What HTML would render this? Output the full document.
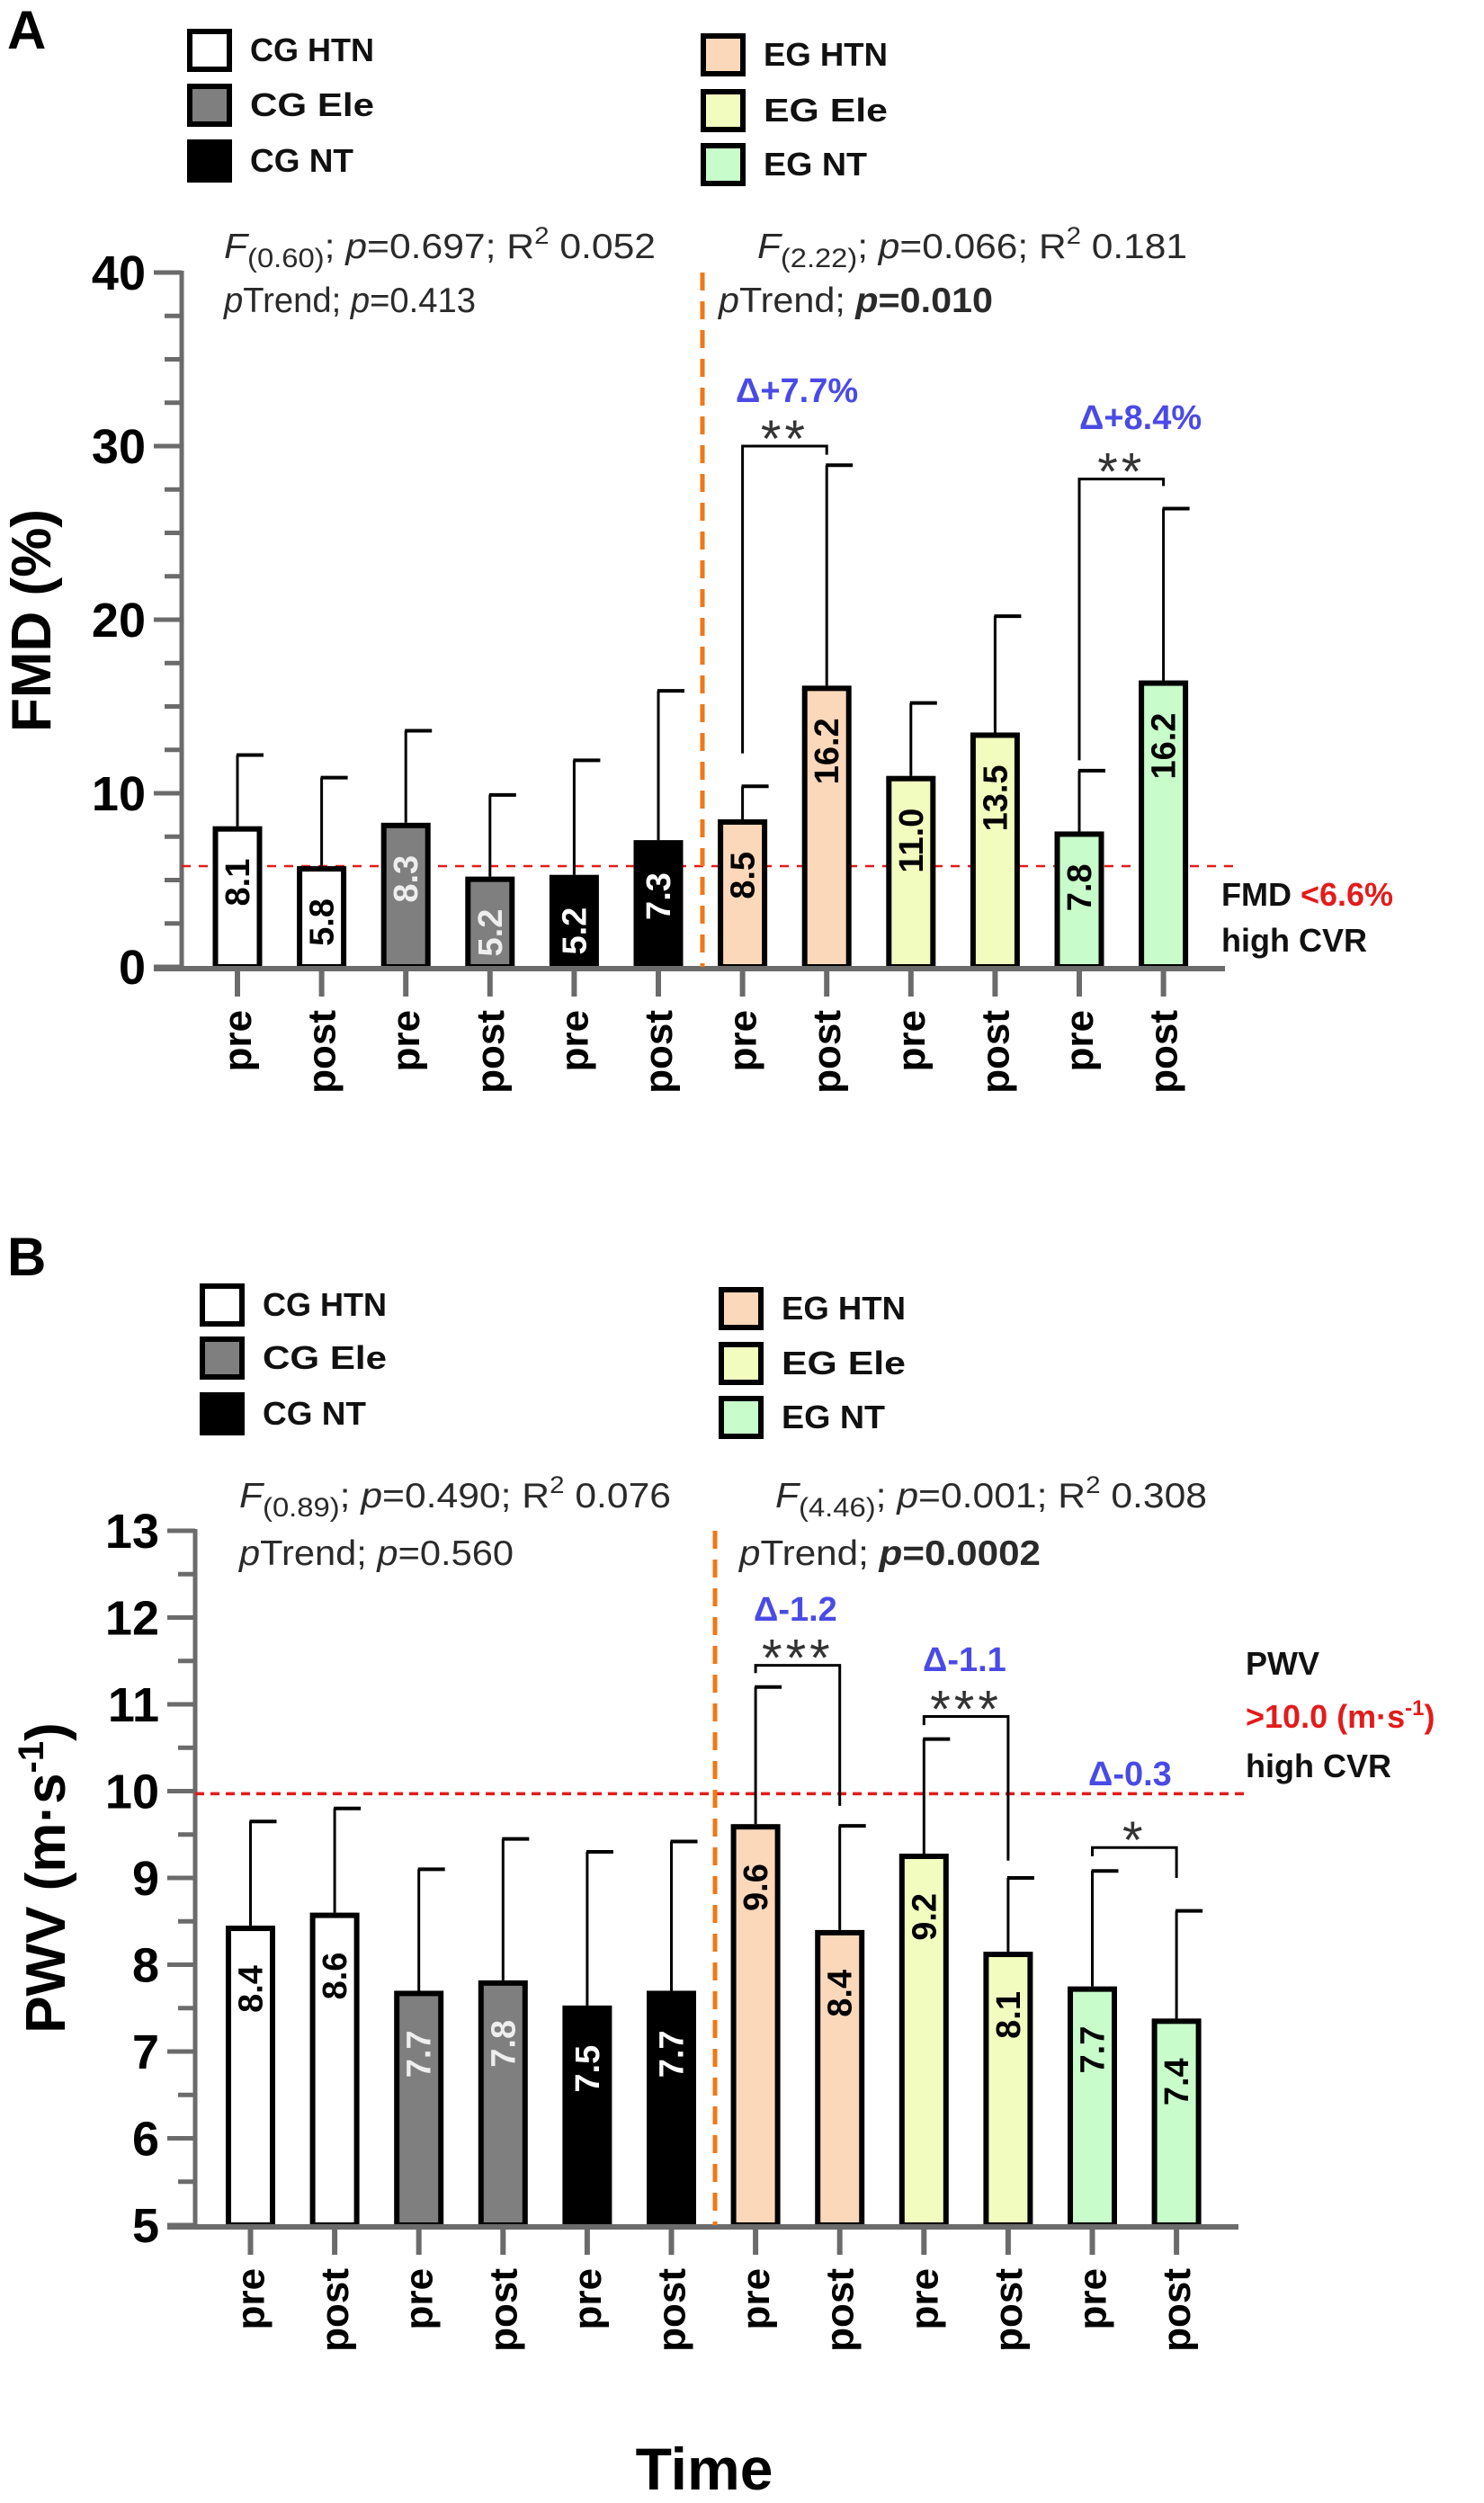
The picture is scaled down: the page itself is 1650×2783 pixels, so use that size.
<!DOCTYPE html>
<html><head><meta charset="utf-8">
<style>
html,body{margin:0;padding:0;background:#fff;}
svg{display:block;font-family:"Liberation Sans",Arial,sans-serif;}
</style></head>
<body>
<svg id="fig" width="1650" height="2783" viewBox="0 0 1650 2783" xmlns="http://www.w3.org/2000/svg"></svg>
<script>
// ---- shared categories ----
const categories = ["pre","post","pre","post","pre","post","pre","post","pre","post","pre","post"];
const groups = ["CG HTN","CG HTN","CG Ele","CG Ele","CG NT","CG NT","EG HTN","EG HTN","EG Ele","EG Ele","EG NT","EG NT"];
// ---- Panel A (FMD) ----
const fmdValues = [8.1, 5.8, 8.3, 5.2, 5.3, 7.3, 8.5, 16.2, 11.0, 13.5, 7.8, 16.5];
const fmdLabels = ["8.1","5.8","8.3","5.2","5.2","7.3","8.5","16.2","11.0","13.5","7.8","16.2"];
const fmdErrTop = [12.2, 10.9, 13.6, 9.9, 11.9, 15.9, 10.4, 28.9, 15.2, 20.2, 11.3, 26.4];
const fmdTicks = [0, 10, 20, 30, 40];
const fmdThreshold = 5.8;
// ---- Panel B (PWV) ----
const pwvValues = [8.45, 8.6, 7.7, 7.82, 7.53, 7.7, 9.62, 8.4, 9.28, 8.15, 7.75, 7.38];
const pwvLabels = ["8.4","8.6","7.7","7.8","7.5","7.7","9.6","8.4","9.2","8.1","7.7","7.4"];
const pwvErrTop = [9.65, 9.8, 9.1, 9.45, 9.3, 9.42, 11.2, 9.6, 10.6, 9.0, 9.08, 8.62];
const pwvTicks = [5, 6, 7, 8, 9, 10, 11, 12, 13];
const pwvThreshold = 9.97;

const NS = "http://www.w3.org/2000/svg";
const svg = document.getElementById("fig");
const fills = {"CG HTN":"#ffffff","CG Ele":"#7f7f7f","CG NT":"#000000","EG HTN":"#fcd8bb","EG Ele":"#f3fcbf","EG NT":"#c8fcca"};
const labelCol = {"CG HTN":"#000","CG Ele":"#eeeeee","CG NT":"#ffffff","EG HTN":"#000","EG Ele":"#000","EG NT":"#000"};

function el(tag, attrs, parent, text) {
  const e = document.createElementNS(NS, tag);
  for (const k in attrs) e.setAttribute(k, attrs[k]);
  if (text !== undefined) e.textContent = text;
  (parent || svg).appendChild(e);
  return e;
}

function panel(cfg) {
  const g = el("g", {});
  
  
  const y = v => cfg.y0 - (v - cfg.vmin) * cfg.ppu;
  const x = i => cfg.x0 + i * cfg.step;
  const axisCol = "#6b6b6b";

  const L = el("text", {x: cfg.letterX, y: cfg.letterY, "font-size": 60, "font-weight": "bold", fill: "#000"}, g, cfg.letter);
  
  

  cfg.legend.forEach((it, k) => {
    const lg = el("g", {}, g);
    
    
    el("rect", {x: it.bx + 3, y: it.by + 3, width: 44, height: 42, fill: fills[it.t], stroke: "#000", "stroke-width": 6}, lg);
    el("text", {x: it.bx + 70, y: it.by + 36, "font-size": 36, "font-weight": "bold", fill: "#111", textLength: 138 * it.t.length / 6, lengthAdjust: "spacingAndGlyphs"}, lg, it.t);
  });

  cfg.stats.forEach(s => {
    const t = el("text", {x: s.x, y: s.y, "font-size": 39, fill: "#2a2a2a", textLength: s.w, lengthAdjust: "spacingAndGlyphs"}, g);
    
    
    t.innerHTML = s.html;
  });

  const yt = el("g", {}, g);
  
  
  const vmax = cfg.ticks[cfg.ticks.length - 1];
  for (let v = cfg.vmin; v <= vmax + 1e-9; v += cfg.minor) {
    const isMajor = cfg.ticks.some(t => Math.abs(t - v) < 1e-6);
    el("line", {x1: isMajor ? cfg.axisX - 31 : cfg.axisX - 19, x2: cfg.axisX, y1: y(v), y2: y(v), stroke: axisCol, "stroke-width": 5}, yt);
  }
  cfg.ticks.forEach(v => {
    const t = el("text", {x: cfg.axisX - 40, y: y(v) + 19, "font-size": 54, "font-weight": "bold", "text-anchor": "end", fill: "#000"}, yt, String(v));
    
    
  });
  el("line", {x1: cfg.axisX, x2: cfg.axisX, y1: y(vmax) - 2, y2: cfg.y0, stroke: axisCol, "stroke-width": 5}, yt);

  const yT = el("text", {x: 0, y: 0, "font-size": 62, "font-weight": "bold", "text-anchor": "middle", fill: "#000", transform: `translate(${cfg.titleX},${cfg.titleY}) rotate(-90)`}, g);
  
  
  yT.innerHTML = cfg.title;

  const th = el("line", {x1: cfg.axisX, x2: cfg.thEnd, y1: y(cfg.threshold), y2: y(cfg.threshold), stroke: "#e31b1b", "stroke-width": cfg.thW, "stroke-dasharray": cfg.thDash}, g);
  
  

  const bw = 55;
  cfg.values.forEach((v, i) => {
    const bg = el("g", {}, g);
    
    
    const cx = x(i);
    el("line", {x1: cx, x2: cx, y1: y(v), y2: y(cfg.err[i]), stroke: "#000", "stroke-width": 3}, bg);
    el("line", {x1: cx - 1, x2: cx + 29, y1: y(cfg.err[i]), y2: y(cfg.err[i]), stroke: "#000", "stroke-width": 4}, bg);
    el("rect", {x: cx - bw / 2 + 3, y: y(v) + 3, width: bw - 6, height: cfg.y0 - y(v) - 3, fill: fills[groups[i]], stroke: "#000", "stroke-width": 6}, bg);
    el("text", {x: 0, y: 0, "font-size": 38, "font-weight": "bold", "text-anchor": "end", fill: labelCol[groups[i]], transform: `translate(${cx + 13},${y(v) + cfg.labOff}) rotate(-90)`}, bg, cfg.labels[i]);
  });

  const xa = el("g", {}, g);
  
  
  el("line", {x1: cfg.axisX - 31, x2: cfg.xEnd, y1: cfg.y0 + 2, y2: cfg.y0 + 2, stroke: axisCol, "stroke-width": 6}, xa);
  categories.forEach((c, i) => {
    el("line", {x1: x(i), x2: x(i), y1: cfg.y0, y2: cfg.y0 + 33, stroke: axisCol, "stroke-width": 6}, xa);
    const t = el("text", {x: 0, y: 0, "font-size": 44, "font-weight": "bold", "text-anchor": "end", fill: "#000", transform: `translate(${x(i) + 15},${cfg.y0 + 48}) rotate(-90)`}, xa, c);
    
    
  });

  const od = el("line", {x1: cfg.divX, x2: cfg.divX, y1: y(vmax), y2: cfg.y0, stroke: "#f07818", "stroke-width": 5, "stroke-dasharray": "20 12"}, g);
  
  

  cfg.brackets.forEach(b => {
    const sg = el("g", {}, g);
    
    
    const xl = x(b.i), xr = x(b.i + 1), yt2 = y(b.top);
    el("polyline", {points: `${xl},${y(b.left)} ${xl},${yt2} ${xr},${yt2} ${xr},${y(b.right)}`, fill: "none", stroke: "#000", "stroke-width": 3}, sg);
    el("text", {x: (xl + xr) / 2, y: yt2 + 12, "font-size": 58, "text-anchor": "middle", fill: "#333", "letter-spacing": 4}, sg, b.stars);
    el("text", {x: b.dx, y: b.dy, "font-size": 38, "font-weight": "bold", fill: "#4a4ae6"}, sg, b.delta);
  });

  cfg.note.forEach(n => {
    const t = el("text", {x: n.x, y: n.y, "font-size": 36, "font-weight": "bold", fill: "#111"}, g);
    
    
    t.innerHTML = n.html;
  });
}

const sub = s => `<tspan font-size="30" dy="10">${s}</tspan><tspan dy="-10">`;

panel({
  name: "panel-a-fmd", letter: "A", letterX: 8, letterY: 54,
  values: fmdValues, labels: fmdLabels, err: fmdErrTop, ticks: fmdTicks,
  vmin: 0, minor: 2.5, y0: 1075, ppu: 19.3, x0: 264, step: 93.6, axisX: 202, xEnd: 1362,
  threshold: fmdThreshold, thEnd: 1372, thW: 2.5, thDash: "10 9", divX: 781, labOff: 36,
  titleX: 56, titleY: 690, title: "FMD (%)",
  legend: [{t:"CG HTN",bx:208,by:32},{t:"CG Ele",bx:208,by:93},{t:"CG NT",bx:208,by:155},
           {t:"EG HTN",bx:779,by:37},{t:"EG Ele",bx:779,by:99},{t:"EG NT",bx:779,by:159}],
  stats: [
    {x:249,y:287,w:480,html:`<tspan font-style="italic">F</tspan>${sub("(0.60)")}; <tspan font-style="italic">p</tspan>=0.697; R<tspan font-size="27" dy="-16">2</tspan><tspan dy="16"> 0.052</tspan></tspan>`},
    {x:249,y:347,w:280,html:`<tspan font-style="italic">p</tspan>Trend; <tspan font-style="italic">p</tspan>=0.413`},
    {x:842,y:287,w:478,html:`<tspan font-style="italic">F</tspan>${sub("(2.22)")}; <tspan font-style="italic">p</tspan>=0.066; R<tspan font-size="27" dy="-16">2</tspan><tspan dy="16"> 0.181</tspan></tspan>`},
    {x:799,y:347,w:305,html:`<tspan font-style="italic">p</tspan>Trend; <tspan font-weight="bold"><tspan font-style="italic">p</tspan>=0.010</tspan>`}
  ],
  brackets: [
    {i:6, top:30.0, left:12.3, right:29.5, stars:"**", delta:"Δ+7.7%", dx:818, dy:447},
    {i:10, top:28.1, left:11.9, right:27.7, stars:"**", delta:"Δ+8.4%", dx:1200, dy:477}
  ],
  note: [
    {x:1358,y:1007,html:`FMD <tspan fill="#e31b1b">&lt;6.6%</tspan>`},
    {x:1358,y:1058,html:`high CVR`}
  ]
});

panel({
  name: "panel-b-pwv", letter: "B", letterX: 8, letterY: 1418,
  values: pwvValues, labels: pwvLabels, err: pwvErrTop, ticks: pwvTicks,
  vmin: 5, minor: 0.5, y0: 2474, ppu: 96.5, x0: 278.5, step: 93.6, axisX: 217, xEnd: 1377,
  threshold: pwvThreshold, thEnd: 1388, thW: 3.5, thDash: "10 7", divX: 795, labOff: 44,
  titleX: 72, titleY: 2088, title: `PWV (m·s<tspan font-size="40" dy="-24">-1</tspan><tspan dy="24">)</tspan>`,
  legend: [{t:"CG HTN",bx:222,by:1427},{t:"CG Ele",bx:222,by:1486},{t:"CG NT",bx:222,by:1548},
           {t:"EG HTN",bx:799,by:1431},{t:"EG Ele",bx:799,by:1492},{t:"EG NT",bx:799,by:1552}],
  stats: [
    {x:266,y:1676,w:480,html:`<tspan font-style="italic">F</tspan>${sub("(0.89)")}; <tspan font-style="italic">p</tspan>=0.490; R<tspan font-size="27" dy="-16">2</tspan><tspan dy="16"> 0.076</tspan></tspan>`},
    {x:266,y:1740,w:305,html:`<tspan font-style="italic">p</tspan>Trend; <tspan font-style="italic">p</tspan>=0.560`},
    {x:862,y:1676,w:480,html:`<tspan font-style="italic">F</tspan>${sub("(4.46)")}; <tspan font-style="italic">p</tspan>=0.001; R<tspan font-size="27" dy="-16">2</tspan><tspan dy="16"> 0.308</tspan></tspan>`},
    {x:822,y:1740,w:335,html:`<tspan font-style="italic">p</tspan>Trend; <tspan font-weight="bold"><tspan font-style="italic">p</tspan>=0.0002</tspan>`}
  ],
  brackets: [
    {i:6, top:11.45, left:11.36, right:9.83, stars:"***", delta:"Δ-1.2", dx:838, dy:1802},
    {i:8, top:10.86, left:10.76, right:9.2, stars:"***", delta:"Δ-1.1", dx:1026, dy:1858},
    {i:10, top:9.35, left:9.25, right:9.0, stars:"*", delta:"Δ-0.3", dx:1210, dy:1985}
  ],
  note: [
    {x:1385,y:1862,html:`PWV`},
    {x:1385,y:1921,html:`<tspan fill="#e31b1b">&gt;10.0 (m·s<tspan font-size="24" dy="-14">-1</tspan><tspan dy="14">)</tspan></tspan>`},
    {x:1385,y:1976,html:`high CVR`}
  ]
});

const xt = el("text", {x: 783, y: 2768, "font-size": 66, "font-weight": "bold", "text-anchor": "middle", fill: "#000"}, svg, "Time");


</script>
</body></html>
